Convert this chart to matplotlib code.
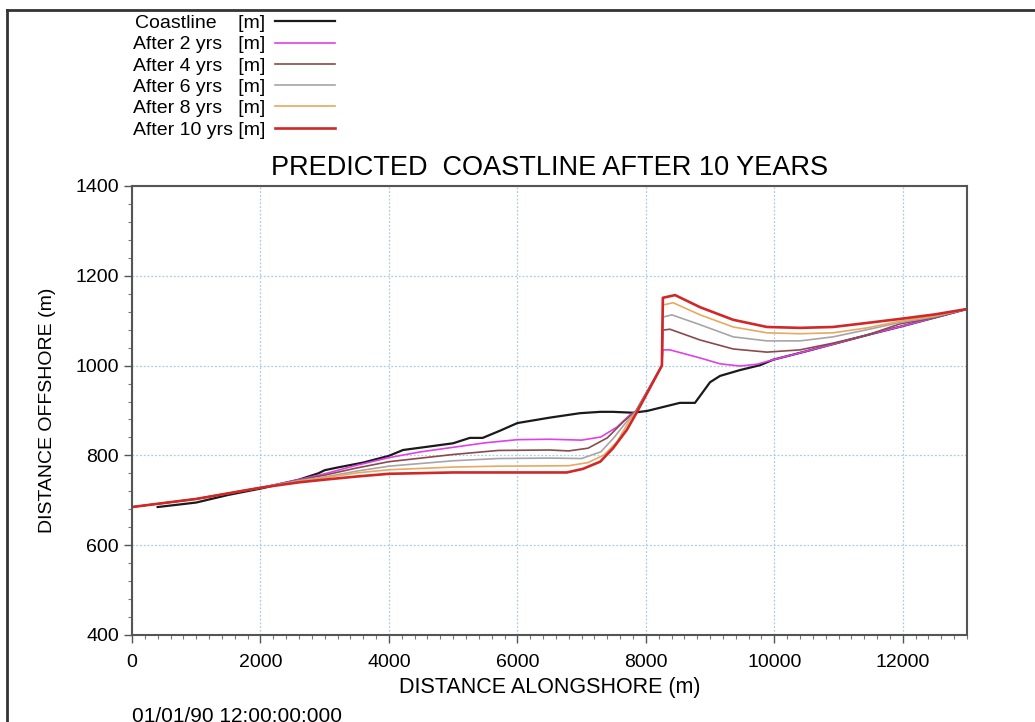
import matplotlib
matplotlib.use("Agg")
import matplotlib.pyplot as plt
from matplotlib.lines import Line2D
from matplotlib.patches import Rectangle
from matplotlib.ticker import MultipleLocator

plt.rcParams['font.family'] = ['Liberation Sans', 'DejaVu Sans']

# coastline positions (alongshore m, offshore m)
x_coast = [400, 1000, 1500, 2000, 2600, 2900, 3000, 3200, 3600, 4000, 4220, 4690, 5000,
           5260, 5460, 5730, 6000, 6500, 6975, 7290, 7490, 7800, 8020, 8530, 8765,
           9000, 9155, 9465, 9780, 9980, 10500, 11000, 11500, 12000, 12500, 13000]
y_coast = [685, 695, 712, 726, 746, 760, 767, 773, 784, 799, 812, 821, 827,
           839, 839, 855, 872, 884, 894, 897, 897, 895, 899, 917, 917,
           963, 977, 990, 1001, 1013, 1032, 1051, 1070, 1088, 1107, 1126]

x_2 = [0, 1000, 2000, 2600, 3000, 3500, 4000, 4500, 5000, 5500, 6000, 6500, 7000, 7300,
       7550, 7750, 7850, 8250, 8265, 8375, 8845, 9155, 9465, 9730, 9980, 10500, 11000,
       11500, 12000, 12500, 13000]
y_2 = [685, 703, 728, 746, 759, 778, 795, 808, 818, 828, 835, 836, 834, 841,
       863, 890, 898, 1000, 1035, 1035, 1017, 1004, 999, 1003, 1013, 1032, 1051,
       1070, 1088, 1107, 1126]

x_4 = [0, 1000, 2000, 2600, 3000, 3500, 4000, 5000, 5700, 6500, 6800, 7100, 7400, 7650,
       7840, 8250, 8265, 8375, 8845, 9360, 9885, 10400, 10915, 11445, 11960, 12500, 13000]
y_4 = [685, 703, 728, 745, 756, 772, 786, 802, 811, 812, 810, 816, 839, 875,
       898, 1000, 1079, 1081, 1057, 1037, 1030, 1035, 1050, 1068, 1093, 1107, 1126]

x_6 = [0, 1000, 2000, 2600, 3000, 3500, 4000, 5000, 5700, 6500, 7000, 7300, 7500, 7700,
       7850, 8250, 8265, 8405, 8845, 9360, 9885, 10400, 10915, 11445, 11960, 12500, 13000]
y_6 = [685, 703, 728, 744, 752, 765, 776, 788, 793, 794, 793, 808, 839, 875,
       898, 1000, 1108, 1113, 1091, 1064, 1055, 1055, 1064, 1080, 1096, 1109, 1126]

x_8 = [0, 1000, 2000, 2600, 3000, 3500, 4000, 5000, 5700, 6800, 7100, 7350, 7550, 7750,
       7860, 8250, 8265, 8425, 8845, 9360, 9885, 10400, 10915, 11445, 11960, 12500, 13000]
y_8 = [685, 703, 728, 742, 750, 761, 768, 774, 776, 777, 784, 801, 830, 879,
       898, 1000, 1135, 1140, 1113, 1086, 1073, 1071, 1073, 1084, 1099, 1111, 1126]

x_10 = [0, 1000, 2000, 2600, 3000, 3500, 4000, 5000, 6000, 6770, 7020, 7290, 7490, 7705,
        7860, 8250, 8265, 8455, 8845, 9360, 9885, 10400, 10915, 11445, 11960, 12500, 13000]
y_10 = [685, 703, 728, 740, 746, 753, 759, 762, 762, 762, 770, 786, 816, 857,
        896, 1000, 1151, 1157, 1130, 1102, 1086, 1084, 1086, 1095, 1104, 1114, 1126]

labels = ['Coastline    [m]', 'After 2 yrs   [m]', 'After 4 yrs   [m]',
          'After 6 yrs   [m]', 'After 8 yrs   [m]', 'After 10 yrs [m]']

fig = plt.figure(figsize=(10.35, 7.22), dpi=100)
ax = fig.add_axes([0.1275, 0.1205, 0.8068, 0.6219])

ax.plot(x_coast, y_coast, color='#1a1a1a', lw=1.6, label=labels[0])
ax.plot(x_2, y_2, color='#e040e8', lw=1.2, label=labels[1])
ax.plot(x_4, y_4, color='#8a4a4c', lw=1.2, label=labels[2])
ax.plot(x_6, y_6, color='#a8a4a8', lw=1.2, label=labels[3])
ax.plot(x_8, y_8, color='#e8a860', lw=1.2, label=labels[4])
ax.plot(x_10, y_10, color='#d02828', lw=1.9, label=labels[5])

ax.set_xlim(0, 13000)
ax.set_ylim(400, 1400)
ax.xaxis.set_major_locator(MultipleLocator(2000))
ax.xaxis.set_minor_locator(MultipleLocator(200))
ax.yaxis.set_major_locator(MultipleLocator(200))
ax.yaxis.set_minor_locator(MultipleLocator(40))
ax.tick_params(which='major', direction='out', length=6, width=1, color='#555555',
               labelsize=14, top=False, right=False)
ax.tick_params(axis='x', which='major', pad=8)
ax.tick_params(which='minor', direction='out', length=3, width=0.8, color='#777777',
               top=False, right=False)
ax.grid(which='major', color='#a8cce0', linestyle=(0, (1.5, 1.5)), lw=0.9)
for s in ax.spines.values():
    s.set_color('#555555')
    s.set_linewidth(1.5)

ax.set_xlabel('DISTANCE ALONGSHORE (m)', fontsize=15.5, labelpad=4)
ax.set_ylabel('DISTANCE OFFSHORE (m)', fontsize=14, labelpad=14)
ax.set_title('PREDICTED  COASTLINE AFTER 10 YEARS', fontsize=19.5, pad=8)

fig.legend(loc='upper left', bbox_to_anchor=(0.1285, 0.980), frameon=False,
           markerfirst=False, fontsize=14, handlelength=3.1, handletextpad=0.5,
           labelspacing=0.19, borderaxespad=0, borderpad=0)

fig.text(0.1275, -0.006, '01/01/90 12:00:00:000', fontsize=15, va='bottom', ha='left')

# page frame: white band above the top rule, then the rules
fig.patches.append(Rectangle((0, 0.979), 1, 0.021, transform=fig.transFigure,
                             facecolor='white', edgecolor='none', zorder=10))
fig.lines.append(Line2D([0.007, 1], [0.986, 0.986], transform=fig.transFigure,
                        color='#333333', lw=2, zorder=11))
fig.lines.append(Line2D([0.007, 0.007], [0, 0.986], transform=fig.transFigure,
                        color='#333333', lw=2, zorder=11))

fig.savefig('out.png', dpi=100)
